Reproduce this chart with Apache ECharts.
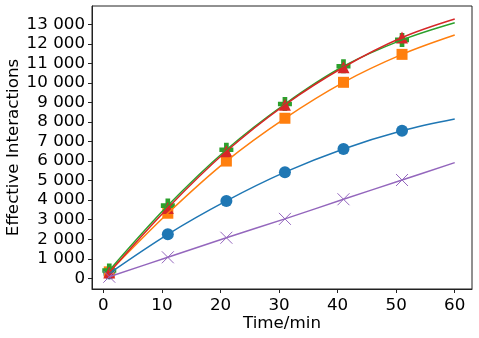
<!DOCTYPE html>
<html>
<head>
<meta charset="utf-8">
<script src="https://cdn.jsdelivr.net/npm/echarts@6/dist/echarts.min.js"></script>
<style>
  html, body { margin: 0; padding: 0; background: #fff; }
  #chart { width: 479px; height: 338px; }
</style>
</head>
<body>
<div id="chart"></div>
<script>
// measured points (markers)
const timeMarks = [1, 11, 21, 31, 41, 51];
const blueMarks = [250, 2250, 3960, 5430, 6620, 7550];
const orangeMarks = [330, 3330, 6000, 8190, 10030, 11460];
const greenMarks = [400, 3720, 6580, 8920, 10850, 12200];
const redMarks = [300, 3600, 6500, 8880, 10800, 12320];
const purpleMarks = [80, 1075, 2075, 3040, 4045, 5030];

// fitted curves
const timeCurve = [1, 11, 21, 31, 41, 51, 60];
const blueCurve = [250, 2250, 3960, 5430, 6620, 7550, 8150];
const orangeCurve = [330, 3330, 6000, 8190, 10030, 11460, 12450];
const greenCurve = [400, 3720, 6580, 8920, 10850, 12200, 13080];
const redCurve = [300, 3600, 6500, 8880, 10800, 12320, 13270];
const purpleCurve = [80, 1075, 2075, 3040, 4045, 5030, 5920];

const xTicks = [0, 10, 20, 30, 40, 50, 60];
const yTicks = [0, 1000, 2000, 3000, 4000, 5000, 6000, 7000, 8000, 9000, 10000, 11000, 12000, 13000];

const FONT = 'DejaVu Sans';
const FS = 16.7;

const plusPath = 'path://M-1,-3L1,-3L1,-1L3,-1L3,1L1,1L1,3L-1,3L-1,1L-3,1L-3,-1L-1,-1Z';
const crossPath = 'path://M0,0L10,10M10,0L0,10';

function pairs(xs, ys) {
  return xs.map((x, i) => [x, ys[i]]);
}

function curve(name, color, xs, ys) {
  return {
    name: name, type: 'line', data: pairs(xs, ys),
    smooth: 0.35, showSymbol: false, symbol: 'none',
    lineStyle: { color: color, width: 1.5 },
    silent: true
  };
}

function marks(name, color, ys, symbol, size, extra) {
  return Object.assign({
    name: name, type: 'scatter', data: pairs(timeMarks, ys),
    symbol: symbol, symbolSize: size,
    itemStyle: { color: color, opacity: 1 },
    silent: true
  }, extra || {});
}

const chart = echarts.init(document.getElementById('chart'), null, { renderer: 'canvas' });

chart.setOption({
  animation: false,
  textStyle: { fontFamily: FONT },
  grid: {
    left: 92, right: 7, top: 6, bottom: 49,
    containLabel: false, outerBoundsMode: 'none',
    show: true, borderColor: '#222', borderWidth: 1
  },
  xAxis: {
    type: 'value', min: -1.95, max: 62.95,
    name: 'Time/min', nameLocation: 'middle', nameGap: 26, nameMoveOverlap: false,
    nameTextStyle: { fontFamily: FONT, fontSize: FS, color: '#000' },
    axisLine: { show: true, onZero: false, lineStyle: { color: '#222', width: 1 } },
    axisTick: { show: true, inside: false, length: 4, lineStyle: { color: '#222' }, customValues: xTicks },
    axisLabel: { fontFamily: FONT, fontSize: FS, color: '#000', margin: 8, customValues: xTicks },
    splitLine: { show: false }
  },
  yAxis: {
    type: 'value', min: -548, max: 13935,
    name: 'Effective Interactions', nameLocation: 'middle', nameGap: 70, nameRotate: 90,
    nameMoveOverlap: false,
    nameTextStyle: { fontFamily: FONT, fontSize: FS, color: '#000' },
    axisLine: { show: true, onZero: false, lineStyle: { color: '#222', width: 1 } },
    axisTick: { show: true, inside: false, length: 4, lineStyle: { color: '#222' }, customValues: yTicks },
    axisLabel: {
      fontFamily: FONT, fontSize: FS, color: '#000', margin: 7, customValues: yTicks,
      formatter: v => String(Math.round(v)).replace(/\B(?=(\d{3})+(?!\d))/g, ' ')
    },
    splitLine: { show: false }
  },
  series: [
    curve('blue', '#1f77b4', timeCurve, blueCurve),
    marks('blue', '#1f77b4', blueMarks, 'circle', 12),
    curve('orange', '#ff7f0e', timeCurve, orangeCurve),
    marks('orange', '#ff7f0e', orangeMarks, 'rect', 11),
    curve('green', '#2ca02c', timeCurve, greenCurve),
    marks('green', '#2ca02c', greenMarks, plusPath, 14),
    curve('red', '#d62728', timeCurve, redCurve),
    marks('red', '#d62728', redMarks, 'triangle', 12),
    curve('purple', '#9467bd', timeCurve, purpleCurve),
    marks('purple', '#9467bd', purpleMarks, crossPath, 12, {
      itemStyle: { color: 'none', borderColor: '#9467bd', borderWidth: 1, opacity: 1 }
    })
  ]
});
</script>
</body>
</html>
